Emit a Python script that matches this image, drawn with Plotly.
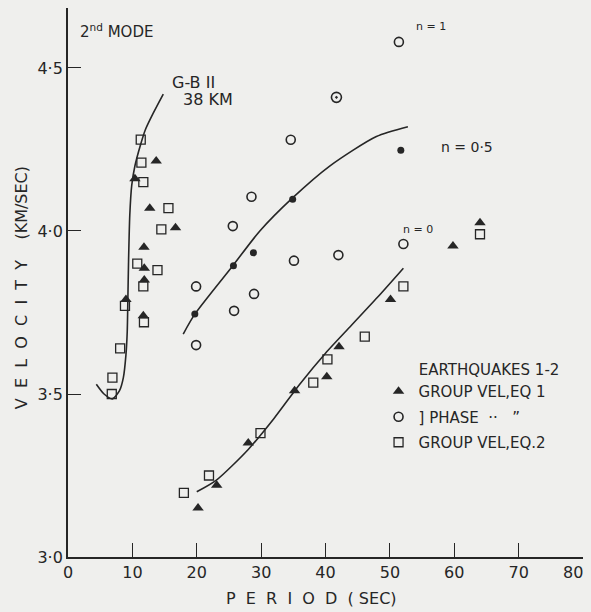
import plotly.graph_objects as go

# ---- data ----
# Group velocity, earthquake 1 (filled triangles)
eq1_period = [9.0, 10.4, 11.8, 11.85, 11.85, 11.7, 12.7, 13.7, 16.7, 20.2, 23.1, 28.0,
              35.2, 40.2, 42.1, 50.1, 59.8, 64.0]
eq1_vel = [3.79, 4.16, 3.95, 3.886, 3.85, 3.74, 4.07, 4.215, 4.01, 3.15, 3.22, 3.35,
           3.51, 3.553, 3.645, 3.79, 3.954, 4.025]

# Group velocity, earthquake 2 (open squares)
eq2_period = [6.8, 6.9, 8.1, 8.85, 10.76, 11.3, 11.4, 11.7, 11.7, 11.8, 13.9, 14.5, 15.6,
              18.0, 21.9, 29.9, 38.1, 40.3, 46.1, 52.1, 64.0]
eq2_vel = [3.50, 3.55, 3.64, 3.77, 3.90, 4.28, 4.21, 4.15, 3.83, 3.72, 3.88, 4.005, 4.07,
           3.197, 3.25, 3.38, 3.535, 3.606, 3.676, 3.83, 3.99]

# Phase velocity (open circles)
phase_open_period = [19.9, 19.9, 25.6, 25.8, 28.5, 28.9, 34.6, 35.1, 42.0, 51.4, 52.1]
phase_open_vel = [3.65, 3.83, 4.015, 3.755, 4.105, 3.807, 4.28, 3.909, 3.926, 4.58, 3.96]

# Phase velocity (dotted circle)
phase_dot_period = [41.7]
phase_dot_vel = [4.41]

# Phase velocity (filled dots)
phase_fill_period = [19.7, 25.7, 28.8, 34.9, 51.7]
phase_fill_vel = [3.745, 3.893, 3.933, 4.097, 4.248]

# Theoretical curve G-B II, 38 km
gb_period = [4.4, 5.6, 6.9, 8.0, 8.6, 9.0, 9.2, 9.3, 9.4, 9.6, 9.9, 10.4, 11.2, 12.0, 13.2, 14.8]
gb_vel = [3.53, 3.50, 3.485, 3.51, 3.55, 3.62, 3.69, 3.79, 3.90, 4.05, 4.14, 4.20, 4.26,
          4.31, 4.36, 4.42]

# Curve n = 0.5
n05_period = [17.9, 19.7, 25.7, 29.8, 34.8, 40.7, 47.9, 52.8]
n05_vel = [3.684, 3.745, 3.896, 4.00, 4.10, 4.20, 4.29, 4.32]

# Curve n = 0
n0_period = [20.0, 23.0, 28.0, 32.0, 36.0, 40.0, 44.0, 48.0, 52.1]
n0_vel = [3.20, 3.235, 3.33, 3.425, 3.53, 3.625, 3.71, 3.795, 3.886]

x_ticks = [0, 10, 20, 30, 40, 50, 60, 70, 80]
x_tick_labels = ["0", "10", "20", "30", "40", "50", "60", "70", "80"]
y_ticks = [3.0, 3.5, 4.0, 4.5]
y_tick_labels = ["3·0", "3·5", "4·0", "4·5"]

INK = "#262626"
BG = "#efefed"
FONT = "DejaVu Sans"

fig = go.Figure()

for px_, py_ in [(gb_period, gb_vel), (n05_period, n05_vel), (n0_period, n0_vel)]:
    fig.add_trace(go.Scatter(x=px_, y=py_, mode="lines",
                             line=dict(color=INK, width=1.6, shape="spline", smoothing=0.7),
                             showlegend=False, hoverinfo="skip"))

fig.add_trace(go.Scatter(x=eq1_period, y=eq1_vel, mode="markers", name="GROUP VEL,EQ 1",
                         legendgroup="a",
                         marker=dict(symbol="triangle-up", size=10, color=INK)))
fig.add_trace(go.Scatter(x=phase_open_period, y=phase_open_vel, mode="markers",
                         name="] PHASE  ··   ”", legendgroup="b",
                         marker=dict(symbol="circle-open", size=9, color=INK,
                                     line=dict(width=1.6))))
fig.add_trace(go.Scatter(x=eq2_period, y=eq2_vel, mode="markers", name="GROUP VEL,EQ.2",
                         legendgroup="c",
                         marker=dict(symbol="square-open", size=9, color=INK,
                                     line=dict(width=1.3))))
fig.add_trace(go.Scatter(x=phase_dot_period, y=phase_dot_vel, mode="markers",
                         showlegend=False,
                         marker=dict(symbol="circle-open-dot", size=10, color=INK,
                                     line=dict(width=1.6))))
fig.add_trace(go.Scatter(x=phase_fill_period, y=phase_fill_vel, mode="markers",
                         showlegend=False,
                         marker=dict(symbol="circle", size=7, color=INK)))

annots = [
    dict(x=1.5, y=4.613, text="2<sup>nd</sup> MODE", size=15),
    dict(x=15.8, y=4.457, text="G-B II", size=16),
    dict(x=17.6, y=4.402, text="38 KM", size=16),
    dict(x=53.8, y=4.626, text="n = 1", size=11),
    dict(x=57.6, y=4.258, text="n = 0·5", size=14),
    dict(x=51.8, y=4.006, text="n = 0", size=11),
]
for a in annots:
    fig.add_annotation(x=a["x"], y=a["y"], text=a["text"], xanchor="left",
                       yanchor="middle", showarrow=False,
                       font=dict(family=FONT, size=a["size"], color=INK))

# last x tick label sits left of its tick (as in the original drawing)
fig.add_annotation(x=x_ticks[-1], yref="paper", y=-0.0275, text=x_tick_labels[-1],
                   xanchor="right", yanchor="middle", showarrow=False, xshift=2,
                   font=dict(family=FONT, size=16, color=INK))

fig.add_annotation(xref="paper", yref="paper", x=-0.089, y=0.49,
                   text="V  E  L  O  C  I  T  Y    (KM/SEC)", textangle=-90, showarrow=False,
                   xanchor="center", yanchor="middle",
                   font=dict(family=FONT, size=16, color=INK))
fig.add_annotation(xref="paper", yref="paper", x=0.472, y=-0.075,
                   text="P  E  R  I  O  D  ( SEC)", showarrow=False,
                   xanchor="center", yanchor="middle",
                   font=dict(family=FONT, size=16, color=INK))

fig.update_layout(
    width=591, height=612,
    margin=dict(l=68, r=8, t=8, b=55, autoexpand=False),
    paper_bgcolor=BG, plot_bgcolor=BG,
    font=dict(family=FONT, color=INK),
    showlegend=True,
    legend=dict(x=0.603, y=0.367, xanchor="left", yanchor="top",
                bgcolor="rgba(0,0,0,0)", font=dict(size=15, color=INK, family=FONT),
                title=dict(text="&nbsp;&nbsp;&nbsp;&nbsp;&nbsp;&nbsp;&nbsp;&nbsp;EARTHQUAKES 1-2",
                           font=dict(size=15, color=INK, family=FONT)),
                itemwidth=30, tracegroupgap=3),
    xaxis=dict(range=[0, 80], tickvals=x_ticks, ticktext=x_tick_labels[:-1] + [""],
               ticks="inside", ticklen=14, tickwidth=1.3,
               tickcolor=INK, showline=True, linecolor=INK, linewidth=1.8, showgrid=False,
               zeroline=False,
               tickfont=dict(size=16, color=INK, family=FONT)),
    yaxis=dict(range=[3.0, 4.684], tickvals=y_ticks, ticktext=y_tick_labels,
               ticks="inside", ticklen=13, tickwidth=1.3, tickcolor=INK, showline=True,
               linecolor=INK, linewidth=1.8, showgrid=False, zeroline=False,
               tickfont=dict(size=16, color=INK, family=FONT)),
)

fig.write_html("out.html", config={"displayModeBar": False},
               post_script="document.body.style.margin='0px';document.body.style.background='%s';" % BG)
